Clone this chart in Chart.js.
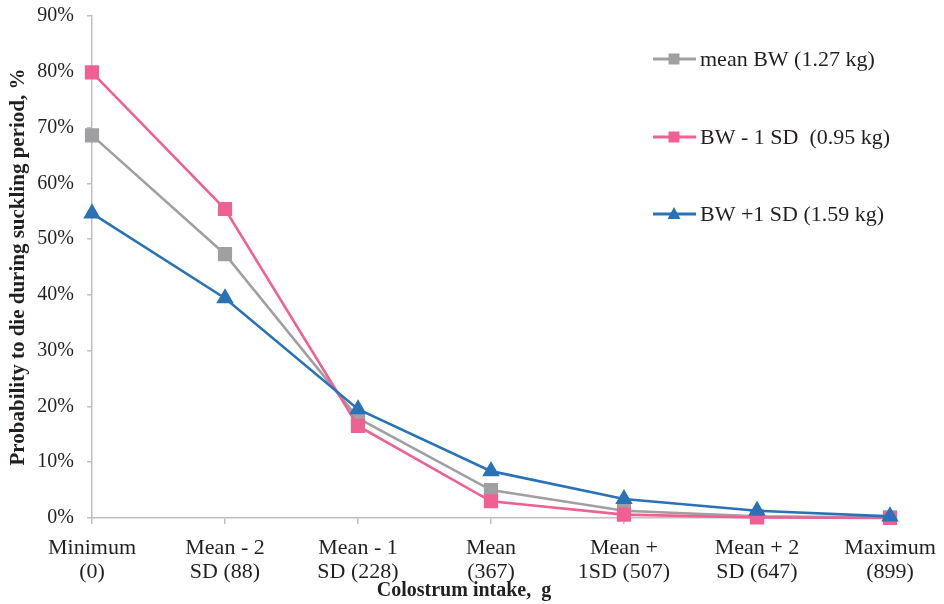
<!DOCTYPE html>
<html>
<head>
<meta charset="utf-8">
<script src="https://cdn.jsdelivr.net/npm/chart.js@4/dist/chart.umd.min.js"></script>
<style>
  html, body { margin: 0; padding: 0; background: #ffffff; }
  #wrap { width: 944px; height: 604px; position: relative; }
</style>
</head>
<body>
<div id="wrap"><canvas id="c" width="944" height="604"></canvas></div>
<script>
const categories = [
  ["Minimum", "(0)"],
  ["Mean - 2", "SD (88)"],
  ["Mean - 1", "SD (228)"],
  ["Mean", "(367)"],
  ["Mean +", "1SD (507)"],
  ["Mean + 2", "SD (647)"],
  ["Maximum", "(899)"]
];
const meanBW = [68.6, 47.3, 17.9, 5.0, 1.3, 0.3, 0.1];
const bwMinus1SD = [79.9, 55.4, 16.5, 3.0, 0.6, 0.1, 0.0];
const bwPlus1SD = [54.6, 39.4, 19.5, 8.4, 3.4, 1.3, 0.3];
const seriesLabels = ["mean BW (1.27 kg)", "BW - 1 SD  (0.95 kg)", "BW +1 SD (1.59 kg)"];
const yTitle = "Probability to die during suckling period, %";
const xTitle = "Colostrum intake,  g";

const GRAY = '#a0a0a2';
const PINK = '#ef6193';
const BLUE = '#2a72b6';
const AXIS = '#bfbfbf';
const TEXT = '#231f20';
const FONT = "'Liberation Serif', 'Times New Roman', serif";

const legendPlugin = {
  id: 'customLegend',
  afterDraw(chart) {
    const ctx = chart.ctx;
    const ys = [59, 137, 214];
    chart.data.datasets.forEach((ds, i) => {
      const y = ys[i];
      ctx.save();
      ctx.strokeStyle = ds.borderColor;
      ctx.lineWidth = 3;
      ctx.beginPath();
      ctx.moveTo(653, y);
      ctx.lineTo(696, y);
      ctx.stroke();
      ctx.fillStyle = ds.backgroundColor;
      ctx.beginPath();
      if (ds.pointStyle === 'triangle') {
        ctx.moveTo(674, y - 7);
        ctx.lineTo(680.5, y + 5);
        ctx.lineTo(667.5, y + 5);
        ctx.closePath();
      } else {
        ctx.rect(674 - 5.5, y - 5.5, 11, 11);
      }
      ctx.fill();
      ctx.fillStyle = TEXT;
      ctx.font = '22px ' + FONT;
      ctx.textAlign = 'left';
      ctx.textBaseline = 'middle';
      ctx.fillText(ds.label, 700, y + 1);
      ctx.restore();
    });
    // x-axis title
    ctx.save();
    ctx.fillStyle = TEXT;
    ctx.font = 'bold 20px ' + FONT;
    ctx.textAlign = 'center';
    ctx.textBaseline = 'middle';
    ctx.fillText(xTitle, 464, 591);
    ctx.restore();
  }
};

function makeDs(label, data, color, style, radius, order) {
  return {
    label: label,
    data: data,
    borderColor: color,
    backgroundColor: color,
    pointBackgroundColor: color,
    pointBorderColor: color,
    pointStyle: style,
    pointRadius: radius,
    pointHoverRadius: radius,
    borderWidth: 2.6,
    tension: 0,
    clip: false,
    order: order
  };
}

new Chart(document.getElementById('c'), {
  type: 'line',
  data: {
    labels: categories,
    datasets: [
      makeDs(seriesLabels[0], meanBW, GRAY, 'rect', 8.2, 2),
      makeDs(seriesLabels[1], bwMinus1SD, PINK, 'rect', 8.2, 1),
      makeDs(seriesLabels[2], bwPlus1SD, BLUE, 'triangle', 7.5, 0)
    ]
  },
  options: {
    responsive: false,
    animation: false,
    devicePixelRatio: 1,
    layout: { padding: { left: 0, top: 16, right: 54, bottom: 0 } },
    plugins: {
      legend: { display: false },
      tooltip: { enabled: false },
      title: { display: false }
    },
    scales: {
      x: {
        type: 'category',
        offset: false,
        afterFit: (s) => { s.height = 86; s.paddingLeft = 0; s.paddingRight = 0; s.paddingTop = 0; s.paddingBottom = 0; },
        border: { display: true, color: AXIS, width: 1.5 },
        grid: { display: true, drawOnChartArea: false, drawTicks: true, tickLength: 6, color: AXIS, lineWidth: 1.5 },
        ticks: {
          color: TEXT,
          font: { family: FONT, size: 22, lineHeight: 1.1 },
          padding: 12,
          maxRotation: 0,
          autoSkip: false
        }
      },
      y: {
        min: 0,
        max: 90,
        afterFit: (s) => { s.width = 92; s.paddingTop = 0; s.paddingBottom = 0; s.paddingLeft = 0; s.paddingRight = 0; },
        border: { display: true, color: AXIS, width: 1.5 },
        grid: { display: true, drawOnChartArea: false, drawTicks: true, tickLength: 5, color: AXIS, lineWidth: 1.5 },
        ticks: {
          stepSize: 10,
          color: TEXT,
          font: { family: FONT, size: 20 },
          padding: 13,
          callback: (v) => v + '%'
        },
        title: {
          display: true,
          text: yTitle,
          color: TEXT,
          font: { family: FONT, size: 21, weight: 'bold', lineHeight: 1.2 },
          padding: { top: 6, bottom: 0 }
        }
      }
    }
  },
  plugins: [legendPlugin]
});
</script>
</body>
</html>
